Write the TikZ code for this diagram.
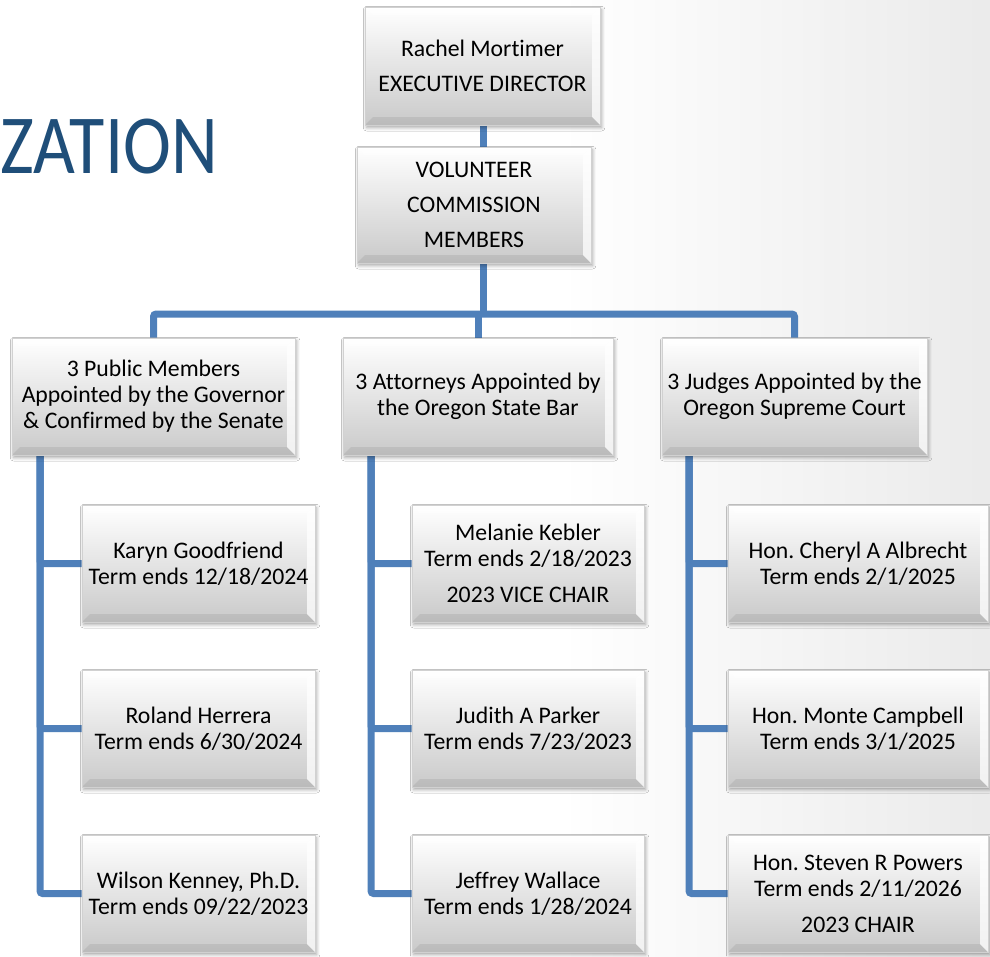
\documentclass[tikz,border=0pt]{standalone}
\usepackage{fontspec}
\setmainfont{Carlito}[Ligatures=NoCommon]
\usetikzlibrary{calc}
\usetikzlibrary{backgrounds}
\usetikzlibrary{shadows.blur}
\definecolor{linkblue}{HTML}{4F80BA}
\definecolor{titleblue}{HTML}{1F4E79}
\frenchspacing

\begin{document}
\begin{tikzpicture}[x=0.75pt, y=-0.75pt,
    orgbox/.style={draw=black!18, line width=0.4pt, top color=white, bottom color=black!21,
        minimum height=87.75pt, inner sep=0pt, align=center,
        font=\fontsize{17.8}{19.5}\selectfont,
        blur shadow={shadow xshift=1.2pt, shadow yshift=-2pt, shadow blur radius=2.5pt, shadow opacity=35},
        path picture={
            \fill[white, opacity=.75] (path picture bounding box.north east) -- (path picture bounding box.south east)
                -- ([shift={(-6pt,6pt)}]path picture bounding box.south east) -- ([shift={(-6pt,-6pt)}]path picture bounding box.north east) -- cycle;
            \fill[black, opacity=.07] (path picture bounding box.south west) -- (path picture bounding box.south east)
                -- ([shift={(-6pt,6pt)}]path picture bounding box.south east) -- ([shift={(6pt,6pt)}]path picture bounding box.south west) -- cycle;
            \fill[white, opacity=.5] (path picture bounding box.north west) -- (path picture bounding box.north east)
                -- ([shift={(-6pt,-6pt)}]path picture bounding box.north east) -- ([shift={(6pt,-6pt)}]path picture bounding box.north west) -- cycle;
        }},
    link/.style={linkblue, line width=5.25pt, rounded corners=2pt}]

    \useasboundingbox (0,0) rectangle (990,957);

    \node[anchor=base east, text=titleblue, inner sep=0pt, font=\fontsize{63}{63}\selectfont] (title) at (218,173) {\scalebox{0.86}[1]{ZATION}};

    \node[orgbox, minimum width=176.25pt, minimum height=88.5pt] (boss) at (482.5,66) {Rachel Mortimer\\[6.75pt]EXECUTIVE DIRECTOR};
    \node[orgbox, minimum width=175.5pt, minimum height=87pt] (vol) at (474,205) {VOLUNTEER\\[7pt]COMMISSION\\[7pt]MEMBERS};

    \node[orgbox, minimum width=212.25pt] (pub) at (153.5,396.5) {3 Public Members\\Appointed by the Governor\\\& Confirmed by the Senate};
    \node[orgbox, minimum width=202.5pt] (att) at (478,396.5) {3 Attorneys Appointed by\\the Oregon State Bar};
    \node[orgbox, minimum width=198.75pt] (jud) at (794.5,396.5) {3 Judges Appointed by the\\Oregon Supreme Court};

    \node[orgbox, minimum width=174.75pt] (karyn) at (198.5,563.5) {Karyn Goodfriend\\Term ends 12/18/2024};
    \node[orgbox, minimum width=174.75pt] (roland) at (198.5,728.5) {Roland Herrera\\Term ends 6/30/2024};
    \node[orgbox, minimum width=174.75pt] (wilson) at (198.5,893.5) {Wilson Kenney, Ph.D.\\Term ends 09/22/2023};

    \node[orgbox, minimum width=174pt] (melanie) at (528,563.5) {Melanie Kebler\\Term ends 2/18/2023\\[7.5pt]2023 VICE CHAIR};
    \node[orgbox, minimum width=174pt] (judith) at (528,728.5) {Judith A Parker\\Term ends 7/23/2023};
    \node[orgbox, minimum width=174pt] (jeffrey) at (528,893.5) {Jeffrey Wallace\\Term ends 1/28/2024};

    \node[orgbox, minimum width=195pt] (cheryl) at (858,563.5) {Hon. Cheryl A Albrecht\\Term ends 2/1/2025};
    \node[orgbox, minimum width=195pt] (monte) at (858,728.5) {Hon. Monte Campbell\\Term ends 3/1/2025};
    \node[orgbox, minimum width=195pt] (steven) at (858,893.5) {Hon. Steven R Powers\\Term ends 2/11/2026\\[7.5pt]2023 CHAIR};

    \begin{scope}[on background layer]
        \fill[white] (0,0) rectangle (990,957);
        \shade[left color=white, right color=black!8] (560,0) rectangle (990,957);

        \coordinate (bus) at (483,314);
        \coordinate (pubrail) at (40,455);
        \coordinate (attrail) at (371,455);
        \coordinate (judrail) at (689,455);

        \draw[link] (boss.south -| bus) -- (vol.north -| bus);
        \draw[link] (vol.south -| bus) -- (bus);
        \draw[link] (pub.north) |- (bus) -| (jud.north);
        \draw[link] (att.north) -- (att.north |- bus);

        \draw[link] (pubrail) |- (karyn.west);
        \draw[link] (pubrail) |- (roland.west);
        \draw[link] (pubrail) |- (wilson.west);

        \draw[link] (attrail) |- (melanie.west);
        \draw[link] (attrail) |- (judith.west);
        \draw[link] (attrail) |- (jeffrey.west);

        \draw[link] (judrail) |- (cheryl.west);
        \draw[link] (judrail) |- (monte.west);
        \draw[link] (judrail) |- (steven.west);
    \end{scope}
\end{tikzpicture}
\end{document}
